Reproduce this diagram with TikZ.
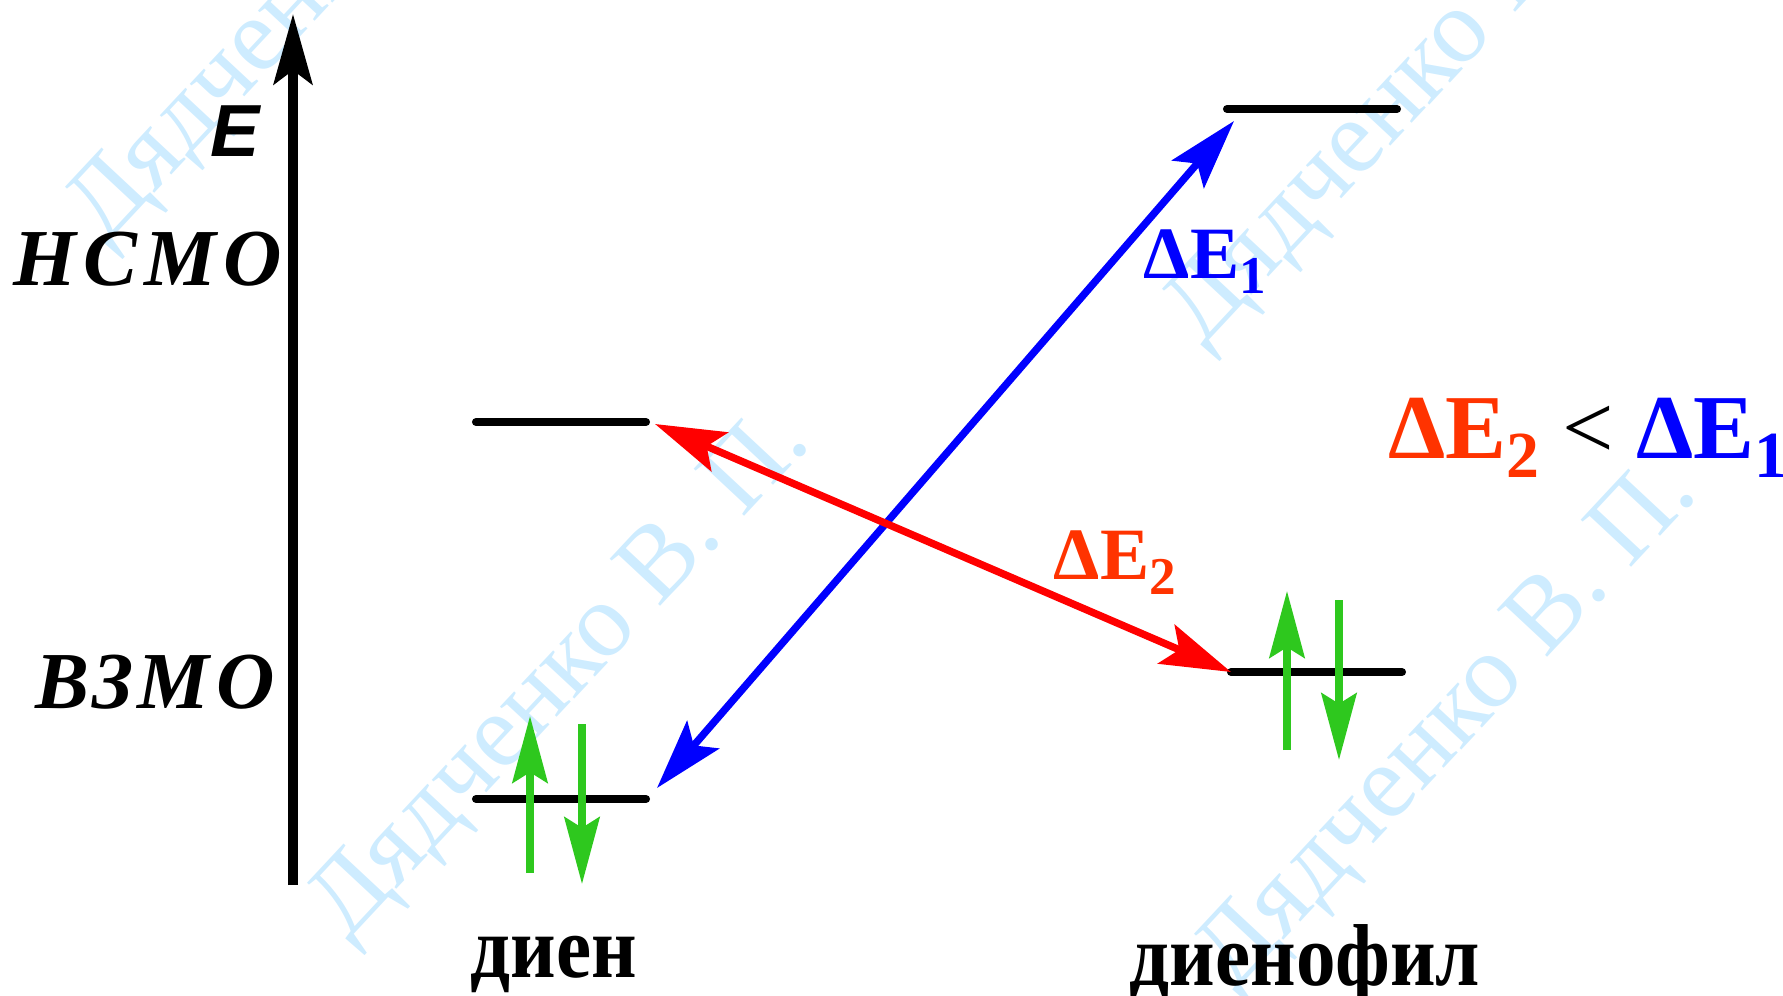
\documentclass[tikz,border=0pt]{standalone}
\usepackage{graphicx}
\usepackage{fontspec}
\setmainfont{Liberation Serif}
\newfontfamily\sansfont{Liberation Sans}
\newfontfamily\narrowfont[FakeStretch=0.9]{Liberation Serif}
\usetikzlibrary{arrows.meta}
\definecolor{gapblue}{RGB}{0,0,255}
\definecolor{gapred}{RGB}{255,0,0}
\definecolor{labred}{RGB}{255,51,0}
\definecolor{spingreen}{RGB}{46,200,30}
\definecolor{wmblue}{RGB}{206,236,255}
\newcommand{\lowidx}[1]{\raisebox{-0.45ex}{\scalebox{0.72}{#1}}}
\tikzset{
level/.style={line width=2.3pt,line cap=round},
gap/.style={line width=2.1pt,{Stealth[length=20pt,width=12pt,inset=4pt]}-{Stealth[length=20pt,width=12pt,inset=4pt]}},
spin/.style={spingreen,line width=2.1pt,-{Stealth[length=19pt,width=10pt,inset=3pt]}},
orbital/.style={font=\fontsize{23}{28}\selectfont\bfseries\itshape},
molecule/.style={font=\narrowfont\fontsize{25}{30}\selectfont\bfseries},
gaplabel/.style={font=\fontsize{21}{25}\selectfont\bfseries},
wmark/.style={text=wmblue,rotate=47,font=\fontsize{30}{36}\selectfont}
}
\begin{document}
\begin{tikzpicture}

\useasboundingbox (0,0) rectangle (17.83,-9.95);
\clip (0,0) rectangle (17.83,-9.95);

\node[wmark]
(W1)
at (3.21,0.19)
{Дядченко В. П.};

\node[wmark]
(W2)
at (5.63,-6.77)
{Дядченко В. П.};

\node[wmark]
(W3)
at (14.18,-0.83)
{Дядченко В. П.};

\node[wmark]
(W4)
at (14.50,-7.28)
{Дядченко В. П.};

\coordinate (Base) at (2.93,-8.85);
\coordinate (Top) at (2.93,-0.14);

\draw[line width=2.6pt,-{Stealth[length=20pt,width=11pt,inset=4pt]}]
(Base)
--
(Top);

\node[font=\sansfont\fontsize{21}{25}\selectfont\bfseries\itshape]
(E)
at (2.35,-1.31)
{E};

\node[orbital]
(LUMO)
at (1.48,-2.59)
{Н\kern2pt С\kern2pt М\kern2pt О};

\node[orbital]
(HOMO)
at (1.55,-6.82)
{В\kern1pt З\kern1pt М\kern2pt О};

\draw[level] (4.76,-4.22) -- (6.46,-4.22);
\draw[level] (4.76,-7.99) -- (6.46,-7.99);
\draw[level] (12.27,-1.09) -- (13.97,-1.09);
\draw[level] (12.31,-6.72) -- (14.02,-6.72);

\draw[spin] (5.30,-8.73) -- (5.30,-7.16);
\draw[spin] (5.82,-7.24) -- (5.82,-8.84);
\draw[spin] (12.87,-7.50) -- (12.87,-5.91);
\draw[spin] (13.39,-6.00) -- (13.39,-7.60);

\coordinate (DienHOMO) at (6.57,-7.88);
\coordinate (FilLUMO) at (12.34,-1.21);
\coordinate (DienLUMO) at (6.55,-4.24);
\coordinate (FilHOMO) at (12.31,-6.72);

\draw[gap,gapblue]
(DienHOMO)
--
(FilLUMO);

\draw[gap,gapred]
(DienLUMO)
--
(FilHOMO);

\node[gaplabel,text=gapblue]
(DE1)
at (12.05,-2.62)
{ΔE\lowidx{1}};

\node[gaplabel,text=labred]
(DE2)
at (11.15,-5.63)
{ΔE\lowidx{2}};

\node[font=\fontsize{26}{31}\selectfont]
(Compare)
at (15.88,-4.38)
{\textbf{\color{labred}ΔE\lowidx{2}} < \textbf{\color{gapblue}ΔE\lowidx{1}}};

\node[molecule]
(Dien)
at (5.54,-9.64)
{диен};

\node[molecule]
(Fil)
at (13.05,-9.64)
{диенофил};

\end{tikzpicture}
\end{document}
